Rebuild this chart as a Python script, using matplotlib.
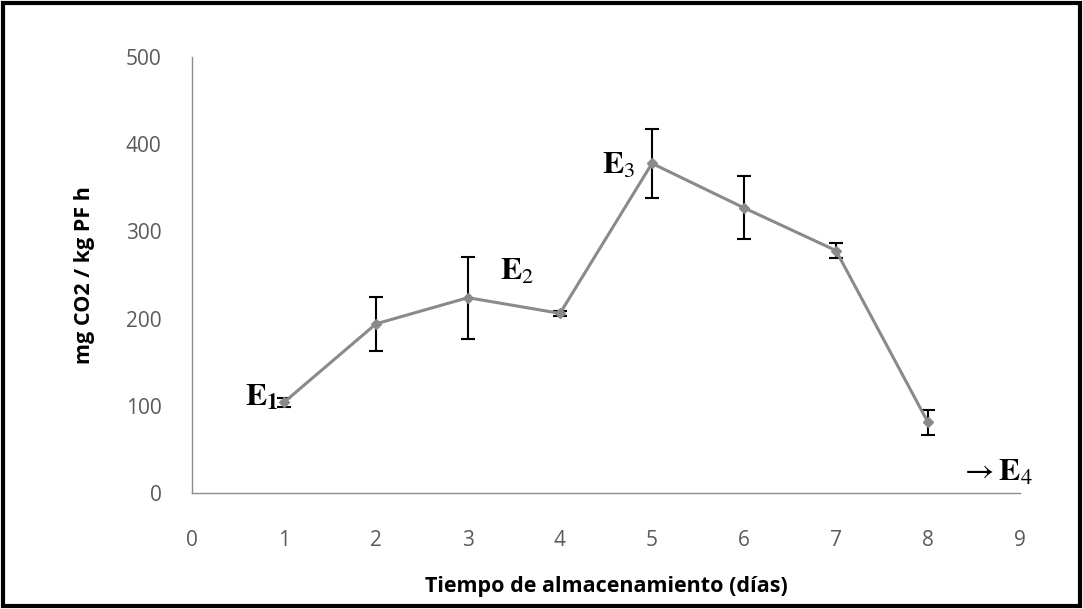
import matplotlib.pyplot as plt
from matplotlib.patches import Rectangle

# storage time (days) vs respiration rate
days = [1, 2, 3, 4, 5, 6, 7, 8]
co2_rate = [104, 194, 224, 206, 378, 327, 278, 81]
co2_err = [5, 31, 47, 3, 40, 36, 9, 14]

stage_labels = [r"$\mathbf{E_1}$", r"$\mathbf{E}_2$", r"$\mathbf{E}_3$", r"$\rightarrow\mathbf{E}_4$"]
stage_pos = [(0.94, 110), (3.35, 254), (4.82, 376), (8.35, 24)]
stage_ha = ["right", "left", "right", "left"]

plt.rcParams["mathtext.fontset"] = "stix"

fig = plt.figure(figsize=(10.83, 6.09), dpi=100)
ax = fig.add_axes([0.1773, 0.1905, 0.7645, 0.7159])

ax.errorbar(
    days, co2_rate, yerr=co2_err,
    color="#8a8a8a", lw=2.2, marker="D", ms=5,
    ecolor="black", elinewidth=1.5, capsize=5, capthick=1.5,
)

for label, (x, y), ha in zip(stage_labels, stage_pos, stage_ha):
    ax.text(x, y, label, fontsize=23, ha=ha, va="center", color="black")

ax.set_xlim(0, 9)
ax.set_ylim(0, 500)
ax.set_xticks(range(0, 10))
ax.set_yticks(range(0, 501, 100))
ax.tick_params(axis="both", length=0, labelsize=15, labelcolor="#5a5a5a",
               labelfontfamily="Open Sans")
ax.tick_params(axis="x", pad=27)
ax.tick_params(axis="y", pad=22)

for side in ["top", "right"]:
    ax.spines[side].set_visible(False)
for side in ["left", "bottom"]:
    ax.spines[side].set_color("#8c8c8c")
    ax.spines[side].set_linewidth(1.0)

ax.set_xlabel("Tiempo de almacenamiento (días)", fontsize=15.5, fontweight="bold",
              family="Open Sans", labelpad=18)
ax.set_ylabel("mg CO2 / kg PF h", fontsize=15.5, fontweight="bold",
              family="Open Sans", labelpad=22)

fig.patches.append(Rectangle((0.003, 0.005), 0.994, 0.99, transform=fig.transFigure,
                             fill=False, edgecolor="black", lw=3))

fig.savefig("out.png", dpi=100)
